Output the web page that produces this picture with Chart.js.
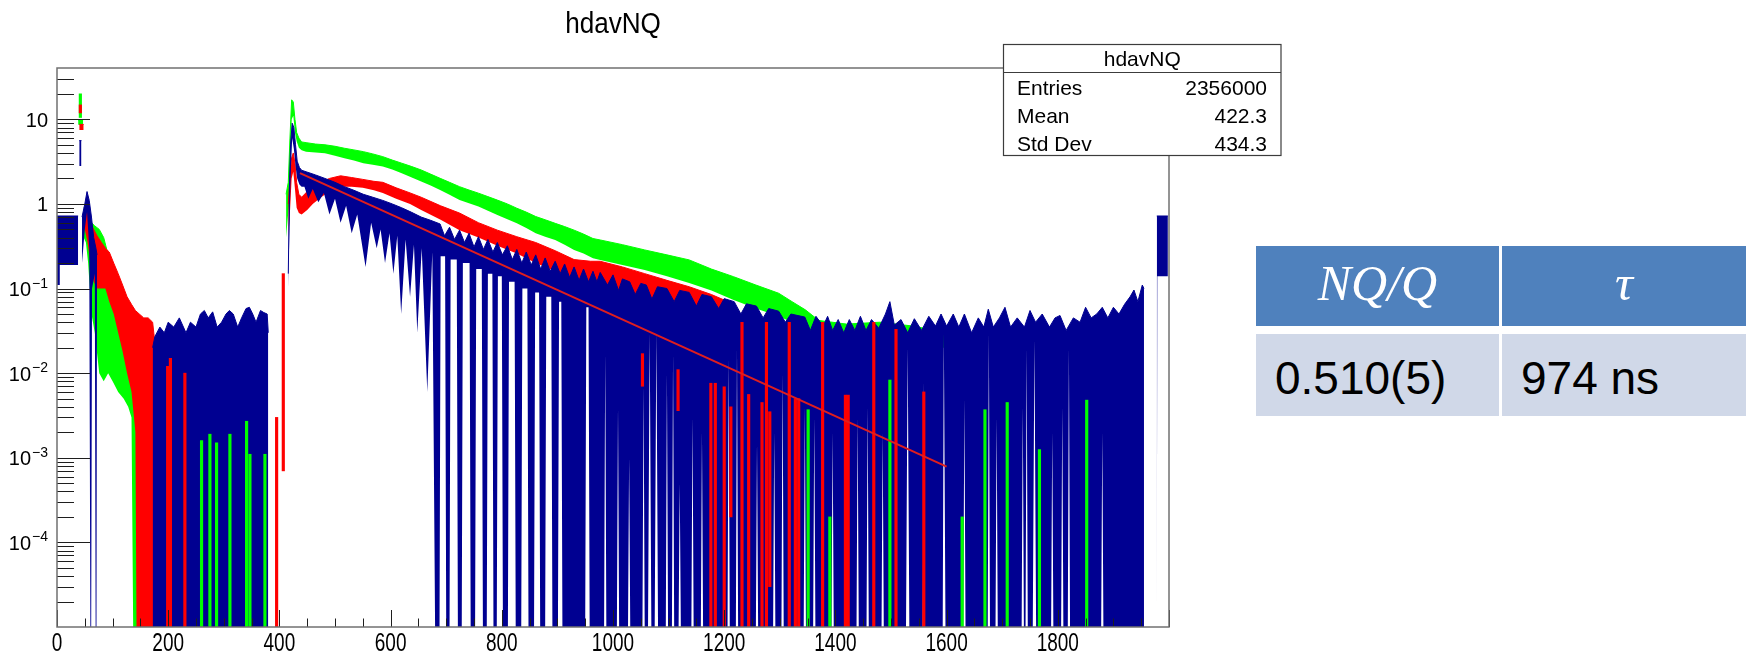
<!DOCTYPE html>
<html>
<head>
<meta charset="utf-8">
<title>hdavNQ</title>
<script src="https://cdn.jsdelivr.net/npm/chart.js"></script>
<style>
  html, body { margin: 0; padding: 0; background: #fff; width: 1748px; height: 654px; overflow: hidden; }
  #wrap { position: absolute; left: 0; top: 0; width: 1748px; height: 654px; }
  #c { position: absolute; left: 0; top: 0; }
  .cell { position: absolute; box-sizing: border-box; display: flex; align-items: center; }
  .head { background: #4f81bd; color: #fff; justify-content: center; padding-bottom: 6px;
          font-family: "Liberation Serif", "DejaVu Serif", serif; font-style: italic; font-size: 50px; }
  .val  { background: #d0d8e8; color: #000; padding-left: 19px; padding-top: 6px;
          font-family: "Liberation Sans", Arial, sans-serif; font-size: 46px; }
</style>
</head>
<body>
<div id="wrap">
  <canvas id="c" width="1748" height="654"></canvas>
  <div id="tbl"></div>
</div>
<script>
// ---- axis ranges and labels ----
const X_MIN = 0, X_MAX = 2000;
const Y_MIN = 1e-5, Y_MAX = 40.4;
const chartTitle = 'hdavNQ';
const xTickLabels = [0, 200, 400, 600, 800, 1000, 1200, 1400, 1600, 1800];
const yTickLabels = [[10, '10', ''], [1, '1', ''], [0.1, '10', '\u22121'], [0.01, '10', '\u22122'],
                     [0.001, '10', '\u22123'], [0.0001, '10', '\u22124']];
const statsTitle = 'hdavNQ';
const statsRows = [['Entries', '2356000'], ['Mean', '422.3'], ['Std Dev', '434.3']];
const tableHeaders = ['NQ/Q', '\u03c4'];
const tableValues = ['0.510(5)', '974 ns'];

// ---- histogram envelopes: [x, value]; 0 = error bar reaches zero; null = no entries ----
const blueUpper = [
  [0,0.72],[38,0.72], null,
  [40,5.6],[44,5.6], null,
  [45,0.7],[50,1.0],[54,1.4],[58,1.1],[62,0.7],[66,0.4],[70,0.3],[72,0.25], null,
  [172,0.02],[176,0.027],[185,0.035],[193,0.03],[200,0.04],[210,0.035],[220,0.045],[232,0.03],[240,0.04],[250,0.035],
  [258,0.05],[265,0.055],[272,0.045],[280,0.053],[288,0.035],[296,0.04],[304,0.05],[310,0.055],[317,0.05],[325,0.035],
  [332,0.045],[340,0.058],[346,0.06],[352,0.05],[358,0.04],[366,0.055],[372,0.052],[378,0.05],[380,0.03], null,
  [416,0.15],[418,1.5],[420,5],[423,9],[426,8],[429,5],[432,3.2],[436,2.7],[440,2.5],[448,2.4],[465,2.2],[482,2.0],
  [500,1.8],[517,1.6],[534,1.45],[551,1.3],[568,1.2],[586,1.1],[603,1.0],[620,0.9],[637,0.8],[655,0.7],[672,0.64],
  [689,0.58],[697,0.42],[706,0.53],[715,0.38],[724,0.49],[733,0.35],[741,0.45],[750,0.31],[758,0.41],[767,0.29],
  [775,0.38],[784,0.27],[792,0.35],[801,0.25],[810,0.32],[819,0.22],[827,0.29],[836,0.2],[844,0.27],[853,0.19],
  [861,0.25],[870,0.17],[878,0.23],[887,0.16],[896,0.21],[905,0.15],[913,0.195],[922,0.135],[930,0.18],[939,0.125],
  [947,0.17],[956,0.12],[964,0.16],[971,0.12],[977,0.155],[990,0.11],[1000,0.145],
  [1010,0.095],[1017,0.13],[1030,0.12],[1040,0.085],[1050,0.115],[1060,0.11],[1070,0.075],[1080,0.105],[1097,0.1],
  [1110,0.07],[1120,0.095],[1137,0.09],[1150,0.062],[1160,0.085],[1177,0.08],[1190,0.058],[1200,0.076],[1218,0.07],
  [1230,0.05],[1240,0.066],[1258,0.062],[1270,0.045],[1280,0.058],[1298,0.054],[1310,0.04],[1320,0.05],[1345,0.046],
  [1355,0.032],[1365,0.047],[1378,0.036],[1386,0.047],[1395,0.032],[1405,0.043],[1415,0.03],[1425,0.043],[1435,0.032],
  [1445,0.047],[1455,0.032],[1465,0.043],[1478,0.034],[1490,0.05],[1498,0.07],[1506,0.037],[1518,0.043],[1530,0.03],
  [1542,0.044],[1555,0.032],[1568,0.047],[1580,0.036],[1590,0.05],[1600,0.036],[1612,0.05],[1622,0.035],[1632,0.05],
  [1645,0.03],[1657,0.045],[1667,0.035],[1675,0.057],[1684,0.035],[1695,0.045],[1705,0.06],[1715,0.035],[1727,0.045],
  [1740,0.035],[1750,0.055],[1760,0.04],[1772,0.05],[1785,0.035],[1795,0.045],[1804,0.048],[1815,0.032],[1828,0.045],
  [1840,0.04],[1850,0.06],[1860,0.045],[1870,0.05],[1880,0.06],[1890,0.045],[1900,0.06],[1910,0.05],[1920,0.065],
  [1930,0.08],[1937,0.096],[1944,0.07],[1952,0.11],[1955,0.1], null,
  [1978,0.72],[1998,0.72]
];
const blueLower = [
  [0,0.11],[4,0.11],[5,0.19],[38,0.19], null,
  [40,2.8],[44,2.8], null,
  [45,0.2],[50,0.5],[54,0.8],[58,0.3],[60,0],[61.5,0],[63,0.1],[68,0.15],[69.5,0],[71,0],[72,0.2], null,
  [172,0],[380,0], null,
  [416,0.1],[418,0.5],[420,2],[423,6],[426,4.5],[429,2.8],[432,2.0],[436,1.7],[440,1.6],[445,1.6],[452,1.15],
  [460,1.5],[470,1.05],[480,1.35],[490,0.75],[500,1.15],[510,0.6],[520,0.95],[530,0.45],[540,0.75],[555,0.18],
  [565,0.6],[575,0.3],[582,0.5],[590,0.2],[598,0.45],[605,0.15],[612,0.42],[619,0.05],[627,0.38],[635,0.08],
  [642,0.33],[648,0.03],[656,0.3],[666,0.006],[675,0.27],[680,0],[688,0],[690,0.24],[698,0.24],[700,0],[706,0],
  [708,0.22],[719,0.22],[721,0],[728,0],[730,0.2],[742,0.2],[744,0],[752,0],[754,0.17],[764,0.17],[766,0],[773,0],
  [775,0.15],[783,0.15],[785,0],[791,0],[793,0.14],[800,0.14],[802,0],[811,0],[813,0.12],[823,0.12],[825,0],[835,0],
  [837,0.1],[846,0.1],[848,0],[858,0],[860,0.09],[867,0.09],[869,0],[878,0],[880,0.08],[889,0.08],[891,0],[901,0],
  [903,0.07],[907,0.07],[909,0],[950,0],[952,0.06],[956,0.06],[958,0],
  [984,0],[986,0.017],[988,0],[1007,0],[1009,0.004],[1011,0],[1027,0],[1029,0.001],[1031,0],[1053,0],[1055,0.007],
  [1057,0],[1063,0],[1066,0.03],[1069,0],[1075,0],[1078,0.03],[1081,0],[1095,0],[1097,0.01],[1099,0],[1106,0],
  [1108,0.017],[1110,0],[1118,0],[1120,0.0005],[1122,0],[1141,0],[1143,0.003],[1145,0],[1158,0],[1160,0.002],[1162,0],
  [1206,0],[1208,0.015],[1210,0],[1221,0],[1223,0.02],[1225,0],[1257,0],[1259,0.0015],[1261,0],[1288,0],[1290,0.002],
  [1292,0],[1303,0],[1305,0.01],[1307,0],[1343,0],[1345,0.004],[1347,0],[1360,0],[1362,0.003],[1364,0],[1393,0],
  [1395,0.002],[1397,0],[1438,0],[1440,0.003],[1442,0],[1456,0],[1458,0.004],[1460,0],[1483,0],[1485,0.002],[1487,0],
  [1527,0],[1530,0.02],[1533,0],[1557,0],[1559,0.008],[1561,0],[1593,0],[1595,0.03],[1598,0],[1630,0],[1632,0.005],
  [1634,0],[1674,0],[1676,0.03],[1678,0],[1688,0],[1690,0.003],[1692,0],[1735,0],[1737,0.004],[1739,0],[1742,0],
  [1744,0.02],[1746,0],[1755,0],[1758,0.025],[1761,0],[1788,0],[1790,0.002],[1792,0],[1806,0],[1808,0.004],[1810,0],
  [1818,0],[1820,0.02],[1822,0],[1878,0],[1880,0.002],[1882,0],[1955,0], null,
  [1978,0],[1979,0.14],[1998,0.14]
];

const redUpper = [
  [40,8.7],[48,8.7], null,
  [50,1.0],[55,0.85],[60,0.6],[66,0.5],[72,0.42],[80,0.35],[87,0.3],[94,0.27],[102,0.2],[110,0.15],[118,0.11],
  [126,0.08],[134,0.065],[141,0.055],[148,0.05],[156,0.045],[164,0.045],[172,0.04],[177,0.02], null,
  [416,1.0],[419,2.0],[422,3.5],[425,4.0],[428,3.0],[431,1.8],[435,1.3],[440,1.2],[450,1.4],[460,1.6],[475,1.8],
  [490,2.0],[510,2.15],[530,2.05],[550,1.95],[570,1.85],[586,1.8],[610,1.55],[635,1.35],[655,1.2],[690,0.95],
  [724,0.78],[758,0.6],[792,0.49],[827,0.41],[861,0.35],[896,0.28],[930,0.22],[960,0.21],[977,0.21],[1017,0.18],
  [1057,0.15],[1097,0.125],[1137,0.105],[1177,0.085],[1218,0.065]
];
const redLower = [
  [40,7.5],[48,7.5], null,
  [50,0.5],[55,0.35],[60,0.2],[66,0.12],[72,0.1],[80,0.1],[87,0.1],[94,0.07],[102,0.05],[110,0.03],[118,0.018],
  [126,0.01],[134,0.006],[141,0.002],[143,0],[148,0],[156,0],[164,0],[172,0],[177,0], null,
  [416,0.4],[419,0.8],[422,2.0],[425,2.4],[428,1.5],[431,0.9],[435,0.78],[440,0.75],[450,0.85],[460,1.0],[475,1.2],
  [490,1.4],[510,1.6],[530,1.6],[550,1.55],[570,1.45],[586,1.35],[610,1.15],[635,1.0],[655,0.85],[690,0.65],
  [724,0.49],[758,0.4],[792,0.32],[827,0.26],[861,0.2],[896,0.16],[930,0.12],[960,0.11],[977,0.11],[1017,0.09],
  [1057,0.075],[1097,0.06],[1137,0.05],[1177,0.04],[1218,0.03]
];

const greenUpper = [
  [38,9.8],[47,9.8], null,
  [48,0.9],[52,0.85],[56,0.75],[62,0.6],[68,0.55],[76,0.5],[84,0.4],[92,0.25],[100,0.15],[110,0.09],[120,0.05],
  [128,0.035],[134,0.028],[137,0.025],[140,0.02],[143,0.015],[146,0.01], null,
  [412,1.3],[416,1.8],[419,6],[422,17],[425,16],[428,10],[431,7],[435,6],[440,5.4],[448,5.3],[465,5.1],[482,5.0],
  [500,4.8],[517,4.55],[534,4.35],[551,4.15],[568,3.9],[586,3.62],[603,3.3],[620,3.03],[637,2.78],[655,2.52],
  [672,2.25],[689,2.01],[706,1.8],[724,1.6],[741,1.46],[758,1.34],[775,1.22],[792,1.11],[810,1.0],[827,0.89],
  [844,0.8],[861,0.71],[878,0.65],[896,0.59],[913,0.54],[930,0.49],[947,0.44],[964,0.39],[977,0.375],[1017,0.33],
  [1057,0.286],[1097,0.25],[1137,0.218],[1177,0.17],[1217,0.138],[1257,0.11],[1298,0.088],[1322,0.07],[1346,0.056],
  [1370,0.042],[1420,0.038],[1480,0.04],[1540,0.036],[1600,0.03]
];
const greenLower = [
  [38,8.6],[47,8.6], null,
  [48,0.4],[52,0.35],[56,0.2],[62,0.05],[68,0.03],[76,0.01],[84,0.008],[92,0.01],[100,0.008],[110,0.006],[120,0.005],
  [128,0.004],[134,0.003],[137,0],[140,0],[143,0],[146,0], null,
  [412,0.4],[416,0.8],[419,1.2],[422,10],[425,11],[428,7],[431,5.5],[435,4.6],[440,4.3],[448,4.15],[465,4.05],
  [482,3.97],[500,3.7],[517,3.47],[534,3.25],[551,3.03],[568,2.9],[586,2.76],[603,2.55],[620,2.31],[637,2.07],
  [655,1.84],[672,1.65],[689,1.46],[706,1.28],[724,1.11],[741,1.02],[758,0.93],[775,0.83],[792,0.74],[810,0.66],
  [827,0.59],[844,0.52],[861,0.45],[878,0.41],[896,0.375],[913,0.33],[930,0.286],[947,0.26],[964,0.228],[977,0.218],
  [1017,0.19],[1057,0.166],[1097,0.14],[1137,0.116],[1177,0.095],[1217,0.073],[1257,0.058],[1298,0.047],[1322,0.04],
  [1346,0.032],[1370,0.02],[1420,0.02],[1480,0.02],[1540,0.02],[1600,0.02]
];

// single bins with long error bars: [x, low, high]
const redBins = [
  [42,11.9,14.8],[199,0,0.012],[204,0,0.015],[230,0,0.01],[395,0,0.003],[407,0.0007,0.15],[1053,0.007,0.017],
  [1117,0.0036,0.011],[1176,0,0.0076],[1184,0,0.0076],[1200,0,0.0069],[1212,0.0002,0.004],[1232,0,0.04],
  [1244,0,0.0056],[1268,0,0.0045],[1276,0,0.04],[1282,0.00003,0.0035],[1317,0,0.04],[1328,0,0.005],[1334,0,0.005],
  [1377,0,0.04],[1418,0,0.0055],[1423,0,0.0055],[1469,0,0.04],[1509,0,0.033],[1559,0,0.006]
];
const greenBins = [
  [42,10.5,20],[260,0,0.0016],[275,0,0.0019],[287,0,0.0015],[311,0,0.0019],[341,0,0.0027],[347,0,0.0011],
  [374,0,0.0011],[1351,0,0.0037],[1390,0,0.0002],[1498,0,0.0083],[1628,0,0.0002],[1669,0,0.0037],[1709,0,0.0045],
  [1767,0,0.00125],[1852,0,0.0048]
];

// exponential fit, end points
const fitLine = [[437, 2.31], [1600, 0.000785]];

// ---- colours ----
const BLUE = 'rgb(0,0,145)', RED = '#ff0000', GREEN = '#00ff00', FIT = '#e01e1e';
const SANS = '"Liberation Sans", Arial, Helvetica, sans-serif';

// ---- table ----
(function buildTable() {
  const tbl = document.getElementById('tbl');
  const cols = [[1256, 243], [1502, 244]];
  tableHeaders.forEach((t, i) => {
    const d = document.createElement('div');
    d.className = 'cell head';
    d.style.cssText += `left:${cols[i][0]}px;top:246px;width:${cols[i][1]}px;height:80px;`;
    d.textContent = t;
    tbl.appendChild(d);
  });
  tableValues.forEach((t, i) => {
    const d = document.createElement('div');
    d.className = 'cell val';
    d.style.cssText += `left:${cols[i][0]}px;top:334px;width:${cols[i][1]}px;height:82px;`;
    d.textContent = t;
    tbl.appendChild(d);
  });
})();

// ---- datasets ----
const toPoint = p => p ? { x: p[0], y: p[1] === 0 ? Y_MIN : p[1] } : { x: null, y: null };
const datasets = [];
function addBand(name, upper, lower, color, order) {
  const idx = datasets.length;
  datasets.push({ type: 'line', label: name + ' +err', data: upper.map(toPoint), borderColor: color,
    borderWidth: 1, pointRadius: 0, fill: false, spanGaps: false, order });
  datasets.push({ type: 'line', label: name + ' -err', data: lower.map(toPoint), borderColor: color,
    borderWidth: 0, pointRadius: 0, fill: { target: idx }, backgroundColor: color, spanGaps: false, order });
}
function addBins(name, bins, color, order) {
  datasets.push({ type: 'bar', label: name, grouped: false, barThickness: 2.5, order,
    backgroundColor: color, borderWidth: 0,
    data: bins.map(b => ({ x: b[0], y: [b[1] === 0 ? Y_MIN : b[1], b[2]] })) });
}
addBand('green', greenUpper, greenLower, GREEN, 50);
addBand('red', redUpper, redLower, RED, 40);
addBand('blue', blueUpper, blueLower, BLUE, 30);
addBins('red bins', redBins, RED, 10);
addBins('green bins', greenBins, GREEN, 10);
datasets.push({ type: 'line', label: 'fit', data: fitLine.map(toPoint), borderColor: FIT, borderWidth: 2,
  pointRadius: 0, fill: false, order: 0 });

// ---- frame, ticks, labels, title, stats box ----
const rootDecor = {
  id: 'rootDecor',
  afterDraw(chart) {
    const { ctx, chartArea: a } = chart;
    const xs = chart.scales.x, ys = chart.scales.y;
    ctx.save();
    // inward ticks
    ctx.strokeStyle = '#1e1e1e';
    ctx.lineWidth = 1;
    ctx.beginPath();
    for (let v = X_MIN; v <= X_MAX; v += 50) {
      const px = Math.round(xs.getPixelForValue(v)) + 0.5;
      const len = v % 200 === 0 ? 17 : 8.5;
      ctx.moveTo(px, a.bottom); ctx.lineTo(px, a.bottom - len);
    }
    for (let e = -5; e <= 1; e++) {
      for (let m = 1; m <= 9; m++) {
        const v = m * Math.pow(10, e);
        if (v <= Y_MIN * 1.01 || v >= Y_MAX * 0.98) continue;
        const py = Math.round(ys.getPixelForValue(v)) + 0.5;
        ctx.moveTo(a.left, py); ctx.lineTo(a.left + (m === 1 ? 33 : 17), py);
      }
    }
    ctx.stroke();
    // frame
    ctx.strokeStyle = '#707070';
    ctx.lineWidth = 1.5;
    ctx.strokeRect(a.left, a.top, a.right - a.left, a.bottom - a.top);

    // x labels
    ctx.fillStyle = '#000';
    ctx.textBaseline = 'alphabetic';
    ctx.textAlign = 'center';
    ctx.font = '25px ' + SANS;
    xTickLabels.forEach(v => {
      ctx.save();
      ctx.translate(xs.getPixelForValue(v), 651);
      ctx.scale(0.76, 1);
      ctx.fillText(String(v), 0, 0);
      ctx.restore();
    });
    // y labels
    ctx.textAlign = 'left';
    yTickLabels.forEach(([v, base, exp]) => {
      const py = ys.getPixelForValue(v);
      ctx.font = '20px ' + SANS;
      const bw = ctx.measureText(base).width;
      let ew = 0;
      if (exp) { ctx.font = '14px ' + SANS; ew = ctx.measureText(exp).width + 1; }
      const bx = 48 - ew - bw;
      ctx.font = '20px ' + SANS;
      ctx.fillText(base, bx, py + 7.5);
      if (exp) { ctx.font = '14px ' + SANS; ctx.fillText(exp, bx + bw + 1, py - 1); }
    });
    // title
    ctx.textAlign = 'center';
    ctx.font = '29px ' + SANS;
    ctx.save();
    ctx.translate((a.left + a.right) / 2, 33);
    ctx.scale(0.9, 1);
    ctx.fillText(chartTitle, 0, 0);
    ctx.restore();

    // statistics box
    const L = 1003.5, T = 44.5, R = 1281, B = 155.5;
    ctx.fillStyle = '#fff';
    ctx.fillRect(L, T, R - L, B - T);
    ctx.strokeStyle = '#3c3c3c';
    ctx.lineWidth = 1.2;
    ctx.strokeRect(L, T, R - L, B - T);
    ctx.beginPath(); ctx.moveTo(L, 72.5); ctx.lineTo(R, 72.5); ctx.stroke();
    ctx.fillStyle = '#000';
    ctx.font = '21px ' + SANS;
    ctx.textAlign = 'center';
    ctx.fillText(statsTitle, (L + R) / 2, 66);
    const baselines = [95, 122.5, 150.5];
    statsRows.forEach(([k, v], i) => {
      ctx.textAlign = 'left'; ctx.fillText(k, 1017, baselines[i]);
      ctx.textAlign = 'right'; ctx.fillText(v, 1267, baselines[i]);
    });
    ctx.restore();
  }
};

new Chart(document.getElementById('c'), {
  type: 'line',
  data: { datasets },
  options: {
    responsive: false,
    maintainAspectRatio: false,
    devicePixelRatio: 1,
    animation: false,
    events: [],
    layout: { padding: { left: 57, top: 68, right: 579, bottom: 27 } },
    elements: { line: { tension: 0 }, point: { radius: 0 } },
    scales: {
      x: { type: 'linear', min: X_MIN, max: X_MAX, offset: false, display: false, grid: { offset: false } },
      y: { type: 'logarithmic', min: Y_MIN, max: Y_MAX, display: false }
    },
    plugins: { legend: { display: false }, tooltip: { enabled: false }, title: { display: false } }
  },
  plugins: [rootDecor]
});
</script>
</body>
</html>
